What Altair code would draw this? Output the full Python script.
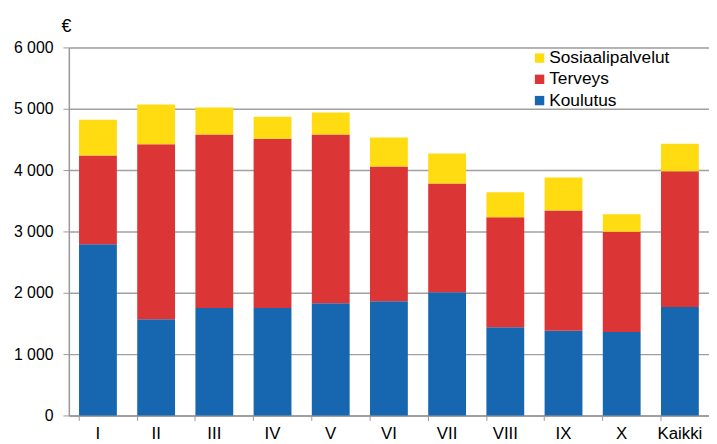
import altair as alt
import pandas as pd

categories = ["I", "II", "III", "IV", "V", "VI", "VII", "VIII", "IX", "X", "Kaikki"]
koulutus = [2790, 1570, 1750, 1750, 1830, 1860, 2010, 1440, 1380, 1360, 1770]
terveys = [1450, 2850, 2830, 2760, 2750, 2200, 1770, 1790, 1960, 1635, 2210]
sosiaali = [580, 650, 440, 360, 360, 470, 490, 410, 540, 285, 450]

series = ["Sosiaalipalvelut", "Terveys", "Koulutus"]
colors = ["#FFDB11", "#DB3535", "#1767B0"]
stack_order = {"Koulutus": 0, "Terveys": 1, "Sosiaalipalvelut": 2}

rows = []
for i, c in enumerate(categories):
    for name, vals in (("Koulutus", koulutus), ("Terveys", terveys), ("Sosiaalipalvelut", sosiaali)):
        rows.append({"cat": c, "series": name, "value": vals[i], "ord": stack_order[name]})
df = pd.DataFrame(rows)

chart = alt.Chart(df).mark_bar().encode(
    x=alt.X("cat:N", sort=categories, title=None,
            scale=alt.Scale(paddingInner=0.35, paddingOuter=0.175),
            axis=alt.Axis(labelAngle=0, labelFontSize=17, labelColor="#000000",
                          labelFont="Liberation Sans", labelPadding=5,
                          tickSize=5, tickColor="#999999", bandPosition=0,
                          domainColor="#999999", domainWidth=1.5, grid=False)),
    y=alt.Y("value:Q", stack="zero",
            scale=alt.Scale(domain=[0, 6000], nice=False),
            axis=alt.Axis(values=[0, 1000, 2000, 3000, 4000, 5000, 6000],
                          labelExpr="datum.value == 0 ? '0' : replace(format(datum.value, ',d'), ',', ' ')",
                          labelFontSize=16, labelColor="#000000", labelFont="Liberation Sans",
                          labelPadding=10, tickSize=6, tickColor="#999999",
                          domainColor="#999999", domainWidth=1.5,
                          gridColor="#A0A0A0", gridWidth=1.5,
                          title="€", titleAngle=0, titleAlign="center", titleBaseline="alphabetic",
                          titleX=-3, titleY=-16, titleFontSize=18, titleFontWeight="normal",
                          titleFont="Liberation Sans", titleColor="#000000")),
    color=alt.Color("series:N", sort=series,
                    scale=alt.Scale(domain=series, range=colors),
                    legend=alt.Legend(title=None, orient="none", legendX=467, legendY=2,
                                      symbolType="square", symbolSize=90, symbolStrokeWidth=0,
                                      labelFontSize=17.5, labelFont="Liberation Sans",
                                      labelColor="#000000", labelOffset=1, rowPadding=2.5,
                                      padding=0)),
    order=alt.Order("ord:Q", sort="ascending"),
).properties(
    width=647,
    height=372,
    padding={"left": 61.5, "top": 37.5, "right": 0, "bottom": 26.5},
    autosize=alt.AutoSizeParams(type="none"),
).configure_view(
    stroke=None
).configure(background="#FFFFFF")

chart.save("out.html", embed_options={"renderer": "svg", "actions": False})
